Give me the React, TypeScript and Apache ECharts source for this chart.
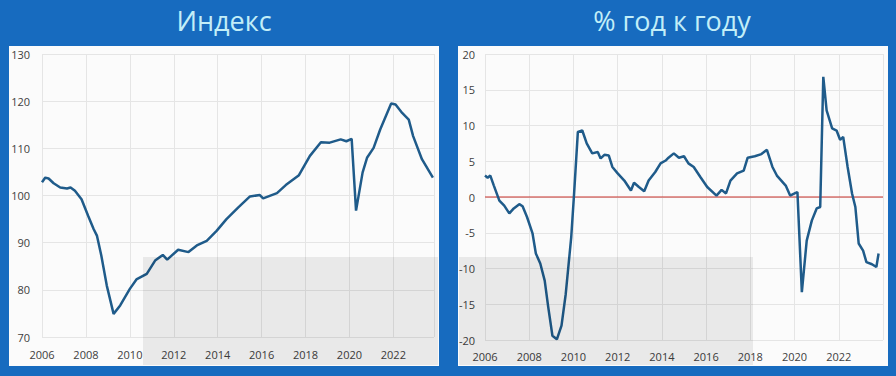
import React, { useEffect, useRef } from "react";
import * as echarts from "echarts";

// Titles
const leftTitle = "Индекс";
const rightTitle = "% год к году";

// Left panel: index level (year fraction, value)
const indexYears = [
  2006.0, 2006.15, 2006.3, 2006.53, 2006.83, 2007.14, 2007.3, 2007.5, 2007.8, 2008.1,
  2008.35, 2008.5, 2008.7, 2008.95, 2009.26, 2009.56, 2010.0, 2010.3, 2010.77, 2011.15,
  2011.5, 2011.7, 2012.2, 2012.67, 2013.05, 2013.5, 2013.95, 2014.4, 2014.94, 2015.47,
  2015.92, 2016.07, 2016.7, 2017.1, 2017.7, 2018.2, 2018.7, 2019.1, 2019.6, 2019.86,
  2020.1, 2020.3, 2020.6, 2020.8, 2021.1, 2021.4, 2021.9, 2022.1, 2022.4, 2022.7,
  2022.9, 2023.3, 2023.8,
];
const indexValues = [
  102.8, 103.8, 103.6, 102.6, 101.7, 101.5, 101.7, 101.0, 99.2, 95.7,
  92.9, 91.5, 87.3, 80.9, 74.9, 76.7, 80.2, 82.2, 83.4, 86.2,
  87.4, 86.4, 88.5, 88.0, 89.4, 90.4, 92.5, 95.0, 97.5, 99.8,
  100.1, 99.4, 100.5, 102.2, 104.3, 108.4, 111.3, 111.2, 111.9, 111.5,
  112.0, 96.8, 104.9, 108.0, 110.1, 114.0, 119.5, 119.3, 117.5, 116.1,
  112.6, 107.7, 103.8,
];

// Right panel: % year over year
const yoyYears = [
  2006.0, 2006.12, 2006.24, 2006.4, 2006.65, 2006.87, 2007.1, 2007.3, 2007.55, 2007.7,
  2007.9, 2008.15, 2008.3, 2008.5, 2008.7, 2008.86, 2009.05, 2009.25, 2009.46, 2009.65,
  2009.9, 2010.03, 2010.2, 2010.4, 2010.6, 2010.85, 2011.1, 2011.23, 2011.4, 2011.6,
  2011.76, 2012.0, 2012.3, 2012.6, 2012.74, 2012.96, 2013.2, 2013.4, 2013.7, 2013.94,
  2014.17, 2014.3, 2014.54, 2014.77, 2015.0, 2015.2, 2015.44, 2015.74, 2016.05, 2016.47,
  2016.7, 2016.9, 2017.1, 2017.4, 2017.7, 2017.88, 2018.2, 2018.5, 2018.75, 2019.0,
  2019.2, 2019.6, 2019.8, 2020.0, 2020.13, 2020.33, 2020.55, 2020.78, 2021.0, 2021.16,
  2021.3, 2021.45, 2021.7, 2021.9, 2022.06, 2022.2, 2022.4, 2022.6, 2022.75, 2022.9,
  2023.1, 2023.25, 2023.5, 2023.7, 2023.8,
];
const yoyValues = [
  3.0, 2.7, 3.0, 1.6, -0.5, -1.2, -2.3, -1.6, -1.0, -1.3,
  -2.8, -5.1, -7.9, -9.3, -11.7, -15.4, -19.4, -19.9, -18.0, -13.6,
  -5.6, 0.5, 9.1, 9.3, 7.5, 6.1, 6.3, 5.4, 5.9, 5.8,
  4.2, 3.3, 2.3, 0.9, 2.0, 1.4, 0.8, 2.3, 3.5, 4.7,
  5.1, 5.5, 6.1, 5.5, 5.7, 4.7, 4.2, 2.8, 1.4, 0.2,
  1.0, 0.5, 2.3, 3.3, 3.7, 5.5, 5.7, 6.0, 6.6, 4.2,
  3.0, 1.6, 0.2, 0.5, 0.7, -13.3, -6.1, -3.3, -1.6, -1.4,
  16.8, 12.1, 9.6, 9.3, 8.0, 8.4, 4.2, 0.5, -1.4, -6.5,
  -7.5, -9.1, -9.4, -9.8, -7.9,
];

// Zero reference line on the right panel
const zeroLineYears = [2006, 2024];
const zeroLineValues = [0, 0];

const FONT = "'Open Sans', 'DejaVu Sans', sans-serif";
const LINE_COLOR = "#1f5b8a";
const GRID_COLOR = "#e5e5e5";
const LABEL_COLOR = "#404040";

function zip(xs: number[], ys: number[]) {
  return xs.map((x, i) => [x, ys[i]]);
}

export default function App() {
  const ref = useRef<HTMLDivElement>(null);

  useEffect(() => {
    if (!ref.current) return;
    const chart = echarts.init(ref.current, undefined, { renderer: "svg" });

    const xAxisBase = (gridIndex: number, max: number, margin: number) => ({
      type: "value" as const,
      gridIndex,
      min: 2006,
      max,
      interval: 2,
      axisLine: { show: false, onZero: false },
      axisTick: { show: false },
      splitLine: { show: true, lineStyle: { color: GRID_COLOR, width: 1 } },
      axisLabel: {
        color: LABEL_COLOR,
        fontFamily: FONT,
        fontSize: 11,
        margin,
        showMaxLabel: false,
        formatter: (v: number) => String(Math.round(v)),
      },
    });

    chart.setOption({
      animation: false,
      backgroundColor: "#176bbf",
      graphic: [
        { type: "rect", shape: { x: 9, y: 46, width: 430, height: 320 }, style: { fill: "#fbfbfb" }, z: -10 },
        { type: "rect", shape: { x: 458, y: 46, width: 430, height: 320 }, style: { fill: "#fbfbfb" }, z: -10 },
        { type: "rect", shape: { x: 143, y: 257, width: 295, height: 108 }, style: { fill: "rgba(0,0,0,0.07)" }, z: 100 },
        { type: "rect", shape: { x: 459, y: 257, width: 294, height: 108 }, style: { fill: "rgba(0,0,0,0.07)" }, z: 100 },
        {
          type: "text",
          x: 224,
          y: 20,
          style: {
            text: leftTitle,
            fill: "#c2eef8",
            font: `27px ${FONT}`,
            textAlign: "center",
            textVerticalAlign: "middle",
          },
        },
        {
          type: "text",
          x: 672,
          y: 20,
          style: {
            text: rightTitle,
            fill: "#c2eef8",
            font: `27px ${FONT}`,
            textAlign: "center",
            textVerticalAlign: "middle",
          },
        },
      ],
      grid: [
        { left: 42, top: 54, width: 392, height: 283 },
        { left: 485, top: 54, width: 398, height: 286 },
      ],
      xAxis: [xAxisBase(0, 2023.85, 12), xAxisBase(1, 2024, 11)],
      yAxis: [
        {
          type: "value",
          gridIndex: 0,
          min: 70,
          max: 130,
          interval: 10,
          axisLine: { show: false },
          axisTick: { show: false },
          splitLine: { lineStyle: { color: GRID_COLOR, width: 1 } },
          axisLabel: { color: LABEL_COLOR, fontFamily: FONT, fontSize: 11, margin: 12 },
        },
        {
          type: "value",
          gridIndex: 1,
          min: -20,
          max: 20,
          interval: 5,
          axisLine: { show: false },
          axisTick: { show: false },
          splitLine: { lineStyle: { color: GRID_COLOR, width: 1 } },
          axisLabel: { color: LABEL_COLOR, fontFamily: FONT, fontSize: 11, margin: 10 },
        },
      ],
      series: [
        {
          type: "line",
          xAxisIndex: 0,
          yAxisIndex: 0,
          data: zip(indexYears, indexValues),
          showSymbol: false,
          lineStyle: { color: LINE_COLOR, width: 2.5 },
          z: 5,
        },
        {
          type: "line",
          xAxisIndex: 1,
          yAxisIndex: 1,
          data: zip(zeroLineYears, zeroLineValues),
          showSymbol: false,
          silent: true,
          lineStyle: { color: "#c8302a", width: 1 },
          z: 3,
        },
        {
          type: "line",
          xAxisIndex: 1,
          yAxisIndex: 1,
          data: zip(yoyYears, yoyValues),
          showSymbol: false,
          lineStyle: { color: LINE_COLOR, width: 2.5 },
          z: 5,
        },
      ],
    });

    return () => chart.dispose();
  }, []);

  return (
    <div
      ref={ref}
      style={{ position: "fixed", left: 0, top: 0, width: 896, height: 376 }}
    />
  );
}
